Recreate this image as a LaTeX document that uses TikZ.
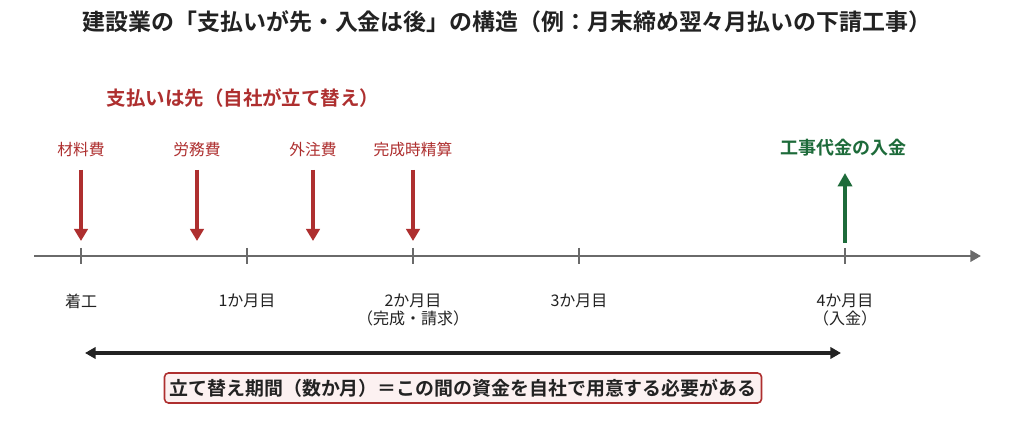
\documentclass[tikz,border=0pt]{standalone}
\usepackage{fontspec}
\setmainfont{Noto Sans CJK JP}[BoldFont={Noto Sans CJK JP Bold}]
\usetikzlibrary{arrows.meta}
\definecolor{cred}{HTML}{AE2F2F}
\definecolor{cgreen}{HTML}{1D6B3A}
\definecolor{caxis}{HTML}{6A6A6A}
\definecolor{cdark}{HTML}{222222}
\definecolor{cboxfill}{HTML}{FCF1F1}
\tikzset{
  titletext/.style={font=\bfseries\fontsize{17.2}{20}\selectfont, text=cdark},
  redhead/.style={font=\bfseries\fontsize{14.6}{17}\selectfont, text=cred},
  paylabel/.style={font=\fontsize{11.8}{14}\selectfont, text=cred},
  greenlabel/.style={font=\bfseries\fontsize{13.5}{16}\selectfont, text=cgreen},
  timelabel/.style={font=\fontsize{12}{13.5}\selectfont, text=cdark, align=center, anchor=north},
  payarrow/.style={draw=cred, line width=2.4pt, -{Triangle[length=9pt,width=10pt]}},
  getarrow/.style={draw=cgreen, line width=3pt, -{Triangle[length=10pt,width=10.5pt]}},
  axisline/.style={draw=caxis, line width=2.2pt, -{Triangle[length=8pt,width=8.5pt]}},
  tickmark/.style={draw=caxis, line width=1.5pt},
  spanarrow/.style={draw=cdark, line width=2.3pt, {Triangle[length=8pt,width=8.5pt]}-{Triangle[length=8pt,width=8.5pt]}},
  notebox/.style={draw=cred, line width=1.2pt, fill=cboxfill, rounded corners=3pt,
    font=\bfseries\fontsize{14.2}{16}\selectfont, text=cdark, minimum width=597*0.75pt, minimum height=30*0.75pt, inner sep=0pt}
}
\begin{document}
\begin{tikzpicture}[x=0.75pt,y=-0.75pt]
\useasboundingbox[fill=white] (0,0) rectangle (1024,448);
% title
\node[titletext] (title) at (507,22) {建設業の「支払いが先・入金は後」の構造（例：月末締め翌々月払いの下請工事）};
\node[redhead] (pay) at (243,98) {支払いは先（自社が立て替え）};
% axis
\coordinate (axstart) at (34,256);
\coordinate (axend) at (981,256);
\draw[axisline] (axstart) -- (axend);
\foreach \n/\x in {t0/81,t1/247,t2/413,t3/579,t4/845}{
  \coordinate (\n) at (\x,256);
  \coordinate (\n top) at (\x,248);
  \coordinate (\n bot) at (\x,264);
  \draw[tickmark] (\n top) -- (\n bot);
}
% payment labels and arrows
\node[paylabel] (l1) at (81,150) {材料費};
\node[paylabel] (l2) at (197,150) {労務費};
\node[paylabel] (l3) at (313,150) {外注費};
\node[paylabel] (l4) at (413,150) {完成時精算};
\foreach \n/\x in {1/81,2/197,3/313,4/413}{
  \coordinate (a\n s) at (\x,170);
  \coordinate (a\n e) at (\x,241);
  \draw[payarrow] (a\n s) -- (a\n e);
}
% income
\node[greenlabel] (inc) at (843,148) {工事代金の入金};
\coordinate (gs) at (845,243);
\coordinate (ge) at (845,173);
\draw[getarrow] (gs) -- (ge);
% time labels
\node[timelabel] (m0) at (81,289) {着工};
\node[timelabel] (m1) at (247,289) {1か月目};
\node[timelabel] (m2) at (413,289) {2か月目\\（完成・請求）};
\node[timelabel] (m3) at (579,289) {3か月目};
\node[timelabel] (m4) at (845,289) {4か月目\\（入金）};
% span
\coordinate (sp1) at (85,353);
\coordinate (sp2) at (841,353);
\draw[spanarrow] (sp1) -- (sp2);
\node[notebox] (note) at (463,388) {立て替え期間（数か月）＝この間の資金を自社で用意する必要がある};
\end{tikzpicture}
\end{document}
